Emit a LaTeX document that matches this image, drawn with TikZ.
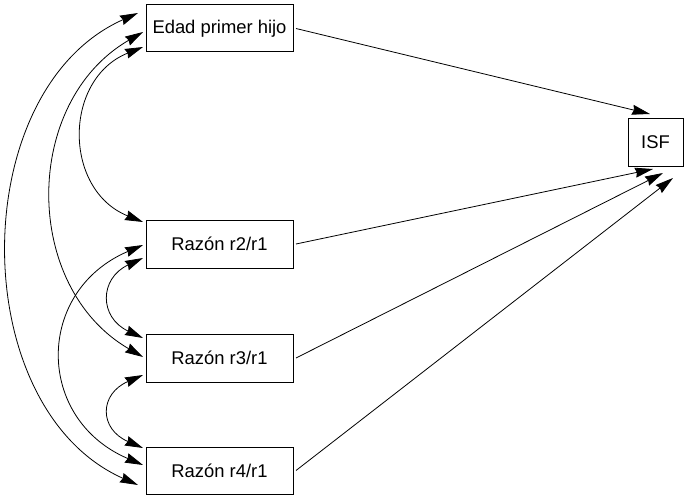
\documentclass[tikz,border=0pt]{standalone}
\usepackage{fontspec}
\setmainfont{Liberation Sans}
\usetikzlibrary{arrows.meta,calc}
\begin{document}
\begin{tikzpicture}[x=1pt,y=-1pt,
  box/.style={draw,line width=1pt,inner sep=0pt,outer sep=0pt,
    font=\fontsize{18.4}{22}\selectfont},
  tipshape/.tip={Stealth[length=18pt,width=10pt,inset=1.5pt]},
  link/.style={line width=0.8pt,-tipshape},
  cov/.style={line width=0.8pt,tipshape-tipshape}]
\useasboundingbox (0,0) rectangle (686,495);
\node[box,minimum width=147pt,minimum height=47pt] (e) at (219.5,28.5) {Edad primer hijo};
\node[box,minimum width=147pt,minimum height=48pt] (r2) at (219.5,244) {Razón r2/r1};
\node[box,minimum width=147pt,minimum height=48pt] (r3) at (219.5,358) {Razón r3/r1};
\node[box,minimum width=147pt,minimum height=47pt] (r4) at (219.5,470.5) {Razón r4/r1};
\node[box,minimum width=55pt,minimum height=48pt] (isf) at (655.5,142) {ISF};
% paths to ISF
\draw[link] ($(e.east)+(3,0)$) -- ($(isf.north)+(-5.5,-4)$);
\draw[link] ($(r2.east)+(3,0)$) -- ($(isf.south)+(-2.5,3)$);
\draw[link] ($(r3.east)+(3,0)$) -- ($(isf.south)+(7.5,7)$);
\draw[link] ($(r4.east)+(3,0)$) -- ($(isf.south)+(17.5,12)$);
% covariances
\draw[cov] ($(e.west)+(-3,18.5)$) .. controls +(-80,32) and +(-80,-32) .. ($(r2.west)+(-3,-22)$);
\draw[cov] ($(e.west)+(-3,3.5)$) .. controls +(-121,70) and +(-121,-70) .. ($(r3.west)+(-3,-1)$);
\draw[cov] ($(e.west)+(-8,-15.5)$) .. controls +(-173,77) and +(-173,-77) .. ($(r4.west)+(-8,14.5)$);
\draw[cov] ($(r2.west)+(-3,14)$) .. controls +(-44,20.5) and +(-44,-20.5) .. ($(r3.west)+(-3,-20)$);
\draw[cov] ($(r3.west)+(-3,17)$) .. controls +(-44,19) and +(-44,-19) .. ($(r4.west)+(-3,-22.5)$);
\draw[cov] ($(r2.west)+(-3,1)$) .. controls +(-108,46) and +(-108,-46) .. ($(r4.west)+(-3,-5.5)$);
\end{tikzpicture}
\end{document}
